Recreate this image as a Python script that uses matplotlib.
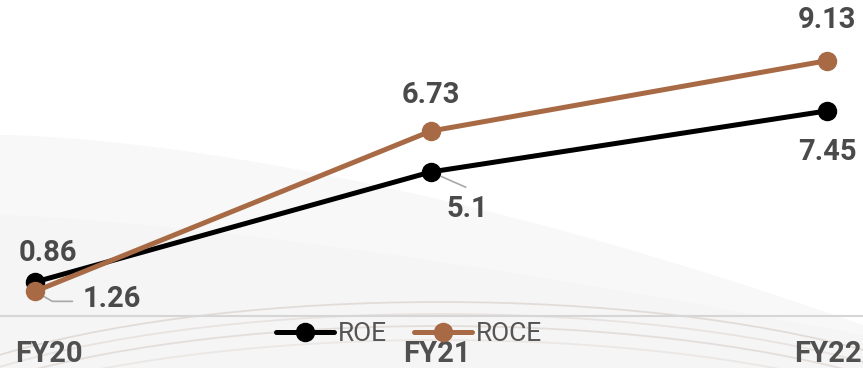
import numpy as np
import matplotlib.pyplot as plt
from matplotlib.patches import Arc

years = ['FY20', 'FY21', 'FY22']
roe = [0.86, 5.1, 7.45]
roce = [1.26, 6.73, 9.13]

BROWN = '#a86a45'
TEXT = '#4a4a4a'
W, H = 863, 368

plt.rcParams['font.family'] = ['Roboto', 'DejaVu Sans']

fig = plt.figure(figsize=(W / 100, H / 100), dpi=100)

# soft background: shaded wave and faint arcs near the bottom
bg = fig.add_axes([0, 0, 1, 1], zorder=0)
bg.set_xlim(0, W)
bg.set_ylim(H, 0)
bg.axis('off')
cx = np.linspace(0, W, 200)
wave = 135 + 190 * (cx / W) ** 1.6
bg.fill_between(cx, wave, H, color='#f8f8f8', lw=0)
wave2 = 215 + 120 * (cx / W) ** 1.4
bg.fill_between(cx, wave2, H, color='#f4f4f4', lw=0, alpha=0.5)
for top, c in [(302, '#e2dcd8'), (314, '#e8e3e0'), (326, '#e4dedb'), (340, '#ebe7e4')]:
    bg.add_patch(Arc((440, top + 165), 1200, 330, theta1=0, theta2=360,
                     color=c, lw=1.3))
bg.axhline(316, color='#d6d6d6', lw=1.5)

ax = fig.add_axes([0, 0, 1, 1], zorder=2)
ax.patch.set_alpha(0)
ax2 = ax.twinx()
ax2.patch.set_alpha(0)

x = np.arange(len(years))
ax.plot(x, roe, color='black', lw=3.6, marker='o', ms=13, label='ROE',
        solid_capstyle='round')
ax2.plot(x, roce, color=BROWN, lw=3.6, marker='o', ms=13, label='ROCE',
         solid_capstyle='round')

for a in (ax, ax2):
    a.set_xlim(-35 / 396, 2 + 36 / 396)
    a.axis('off')
ax.set_ylim(-2.45, 11.72)
ax2.set_ylim(-1.355, 11.20)

lbl = dict(textcoords='offset points', ha='center', va='center',
           fontsize=21, fontweight='bold', color=TEXT)
lead = dict(arrowstyle='-', color='#a8a8a8', lw=1.2, shrinkA=0, shrinkB=0)

ax.annotate(f'{roe[0]}', (x[0], roe[0]), xytext=(9.5, 21), **lbl)
ax.annotate(f'{roe[1]}', (x[1], roe[1]), xytext=(26, -27), **lbl)
ax.annotate(f'{roe[2]}', (x[2], roe[2]), xytext=(0, -29.5), **lbl)
ax.annotate('', (x[1], roe[1]), xytext=(25, -11), textcoords='offset points',
            arrowprops=lead, zorder=1)

ax2.annotate(f'{roce[0]}', (x[0], roce[0]), xytext=(55, -5.5), **lbl)
ax2.annotate(f'{roce[1]}', (x[1], roce[1]), xytext=(0, 26), **lbl)
ax2.annotate(f'{roce[2]}', (x[2], roce[2]), xytext=(0, 29), **lbl)
ax2.annotate('', (x[0], roce[0]), xytext=(27, -7.2), textcoords='offset points',
             arrowprops=dict(lead, connectionstyle='angle,angleA=0,angleB=-30'),
             zorder=1)

# category labels along the bottom edge
shifts = [10, 4, 1]
for i, (yr, s) in enumerate(zip(years, shifts)):
    ax.annotate(yr, (x[i], 0), xycoords=('data', 'figure pixels'),
                xytext=(s, 4), textcoords='offset points', ha='center',
                va='baseline', fontsize=21, fontweight='bold', color='#505050',
                annotation_clip=False)

h1, l1 = ax.get_legend_handles_labels()
h2, l2 = ax2.get_legend_handles_labels()
leg = fig.legend(h1 + h2, l1 + l2, loc='center', bbox_to_anchor=(409 / W, 1 - 334 / H),
                 ncol=2, frameon=False, fontsize=19, handlelength=2.2,
                 handletextpad=0.15, columnspacing=1.0, borderpad=0)
for t in leg.get_texts():
    t.set_color('#555555')

fig.savefig('out.png', dpi=100)
